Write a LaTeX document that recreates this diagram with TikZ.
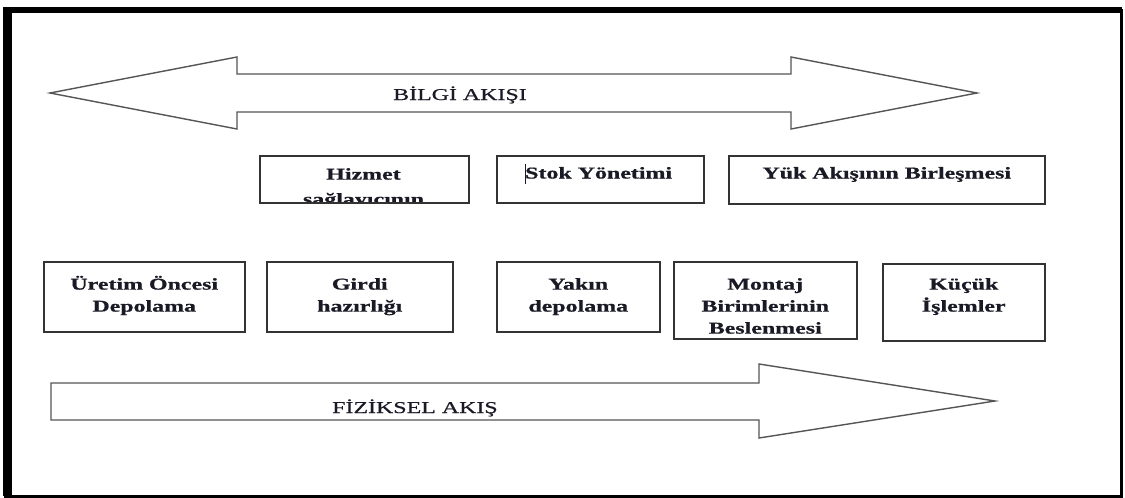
\documentclass[tikz,border=0pt]{standalone}
\usepackage{fontspec}
\setmainfont{Liberation Serif}[BoldFeatures={FakeBold=0.6}]
\newfontfamily\flowfont{Liberation Serif}[FakeBold=0.5]
\usepackage{graphicx}
\usetikzlibrary{calc}
\definecolor{ink}{HTML}{1A1A26}
\definecolor{boxline}{HTML}{333333}
\definecolor{arrowline}{HTML}{555555}
\newcommand{\stretchtext}[1]{\scalebox{1.45}[1]{#1}}
\newcommand{\stretchlines}[1]{\scalebox{1.45}[1]{\begin{tabular}{@{}c@{}}#1\end{tabular}}}
\tikzset{
  boxnode/.style={draw=boxline, line width=1.5pt, fill=white, inner sep=0pt, anchor=north west},
  label text/.style={text=ink, inner sep=0pt, font=\fontsize{16.5}{22}\selectfont\bfseries},
  flow text/.style={text=ink, inner sep=0pt, font=\flowfont\fontsize{16.5}{21}\selectfont},
  flowarrow/.style={draw=arrowline, line width=1.4pt, line join=miter, fill=white},
}
\begin{document}
\begin{tikzpicture}[x=1pt, y=-1pt]
\useasboundingbox (0,0) rectangle (1125,498);
\fill[white] (0,0) rectangle (1125,498);
% outer frame
\draw[black, line width=3pt] (5,10) rectangle (1121,496);
\fill[black] (3,7) rectangle (12,496);
\fill[black] (3,7) rectangle (1122,13);

% information flow: double arrow
\draw[flowarrow] (50,93) -- (237,57) -- (237,74) -- (791,74) -- (791,57) -- (977,93)
  -- (791,129) -- (791,112) -- (237,112) -- (237,129) -- cycle;
\node[flow text, anchor=base west] (bilgi) at (393,100) {\stretchtext{BİLGİ AKIŞI}};

% physical flow: single arrow
\draw[flowarrow] (51,383) -- (759,383) -- (759,364) -- (995,401) -- (759,438) -- (759,420) -- (51,420) -- cycle;
\node[flow text, anchor=base west] (fiziksel) at (332,413) {\stretchtext{FİZİKSEL AKIŞ}};

% top row
\coordinate (hzNW) at (259,155);
\coordinate (hzSE) at (468,202);
\begin{scope}
  \clip ([xshift=1pt,yshift=-1pt]hzNW) rectangle ([xshift=-1pt,yshift=1pt]hzSE);
  \node[label text, anchor=north] (hizmettext) at ([yshift=-9pt]$(hzNW)!0.5!(hzNW -| hzSE)$) {\stretchlines{Hizmet\\[3pt]sağlayıcının}};
\end{scope}
\node[boxnode, fill=none, minimum width=209pt, minimum height=47pt] (hizmet) at (hzNW) {};
\node[boxnode, minimum width=207pt, minimum height=47pt] (stok) at (496,155) {};
\node[boxnode, minimum width=316pt, minimum height=48pt] (yuk) at (728,155) {};

\node[label text, anchor=base west] (stoktext) at (525,178.5) {\stretchtext{Stok Yönetimi}};
\draw[ink, line width=1pt] ([xshift=0.5pt,yshift=-5pt]stoktext.base west) -- ([xshift=0.5pt,yshift=15pt]stoktext.base west);
\node[label text, anchor=base] (yuktext) at ([yshift=-23.5pt]yuk.north) {\stretchtext{Yük Akışının Birleşmesi}};

% bottom row
\node[boxnode, minimum width=201pt, minimum height=70pt] (uretim) at (43,261) {};
\node[boxnode, minimum width=186pt, minimum height=70pt] (girdi) at (266,261) {};
\node[boxnode, minimum width=163pt, minimum height=70pt] (yakin) at (496,261) {};
\node[boxnode, minimum width=183pt, minimum height=77pt] (montaj) at (673,261) {};
\node[boxnode, minimum width=162pt, minimum height=77pt] (kucuk) at (882,263) {};

\node[label text, anchor=north] (uretimtext) at ([yshift=-13pt]uretim.north) {\stretchlines{Üretim Öncesi\\Depolama}};
\node[label text, anchor=north] (girditext) at ([yshift=-13pt]girdi.north) {\stretchlines{Girdi\\hazırlığı}};
\node[label text, anchor=north] (yakintext) at ([yshift=-13pt]yakin.north) {\stretchlines{Yakın\\depolama}};
\node[label text, anchor=north] (montajtext) at ([yshift=-13pt]montaj.north) {\stretchlines{Montaj\\Birimlerinin\\Beslenmesi}};
\node[label text, anchor=north] (kucuktext) at ([yshift=-11pt]kucuk.north) {\stretchlines{Küçük\\İşlemler}};
\end{tikzpicture}
\end{document}
